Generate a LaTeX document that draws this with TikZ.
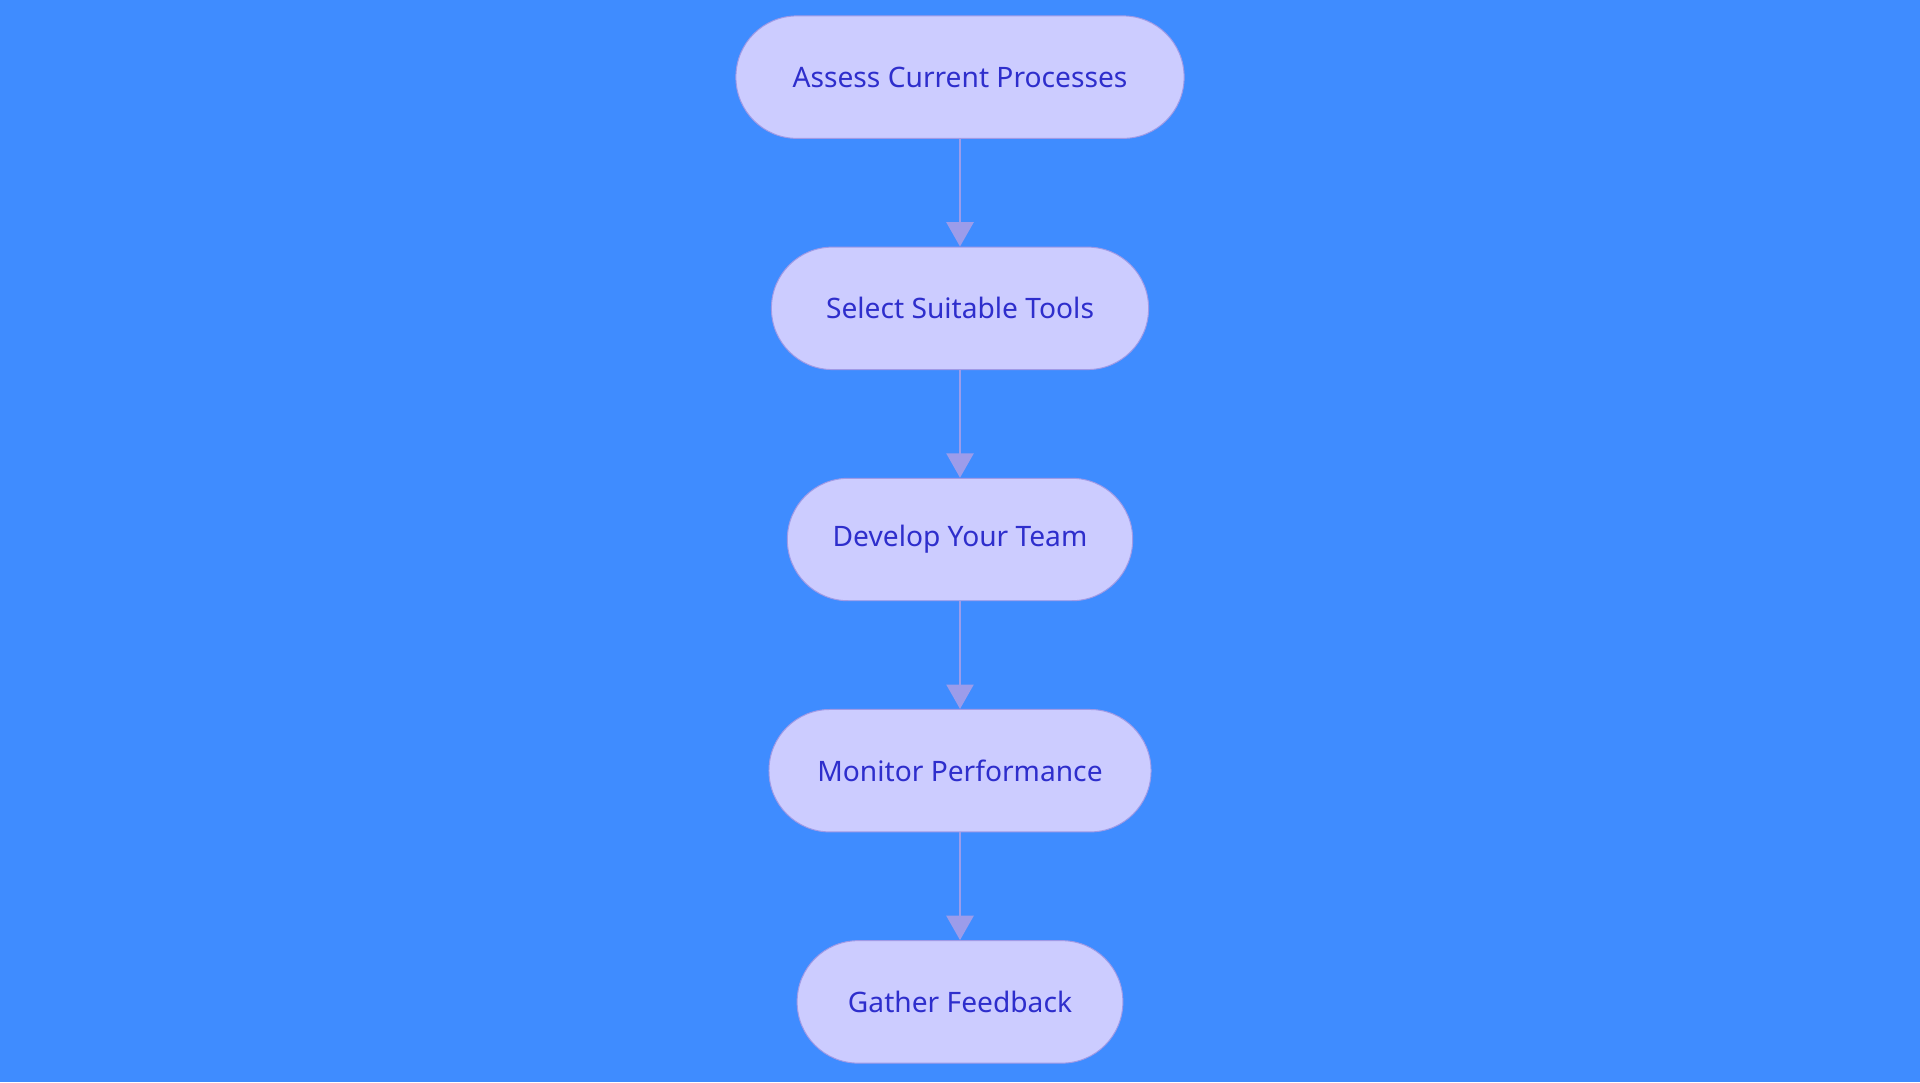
\documentclass[tikz,border=0pt]{standalone}
\usepackage{fontspec}
\setmainfont{Noto Sans}
\usetikzlibrary{positioning, arrows.meta}
\definecolor{flowbg}{HTML}{3F8CFF}
\definecolor{flowfill}{HTML}{CCCCFF}
\definecolor{flowline}{HTML}{A09AE6}
\definecolor{flowtext}{HTML}{2E2ECC}
\definecolor{flowarrow}{HTML}{9C9CEA}

\begin{document}
\begin{tikzpicture}[x=0.5pt, y=-0.5pt,
    stage/.style={rectangle, rounded corners=24.9pt, draw=flowline, fill=flowfill, text=flowtext,
        minimum height=50pt, inner xsep=4pt, font=\fontsize{11.5}{14}\selectfont},
    flow/.style={draw=flowarrow, line width=1.2pt, -{Triangle[length=10pt, width=11pt]}}]
    % background
    \fill[flowbg] (0,0) rectangle (1568,884);
    \useasboundingbox (0,0) rectangle (1568,884);

    % stages
    \node[stage, minimum width=183pt] (assess) at (784,63) {Assess Current Processes};
    \node[stage, minimum width=154pt, below=44pt of assess] (select) {Select Suitable Tools};
    \node[stage, minimum width=141pt, below=44pt of select] (develop) {Develop Your Team};
    \node[stage, minimum width=156pt, below=44pt of develop] (monitor) {Monitor Performance};
    \node[stage, minimum width=133pt, below=44pt of monitor] (gather) {Gather Feedback};

    % arrows
    \draw[flow] (assess) -- (select);
    \draw[flow] (select) -- (develop);
    \draw[flow] (develop) -- (monitor);
    \draw[flow] (monitor) -- (gather);
\end{tikzpicture}
\end{document}
